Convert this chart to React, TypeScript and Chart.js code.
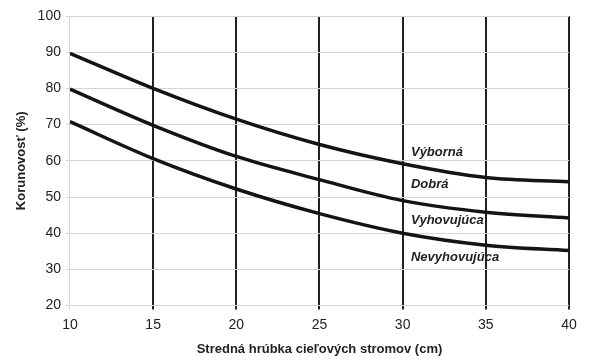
import React, { useEffect, useRef } from "react";
import { Chart, registerables } from "chart.js";
Chart.register(...registerables);

const diameters = [10, 15, 20, 25, 30, 35, 40];
const vybornaValues = [89.7, 80.0, 71.5, 64.5, 59.2, 55.4, 54.2];
const dobraValues = [79.8, 69.8, 61.2, 54.8, 49.0, 45.8, 44.2];
const vyhovujucaValues = [70.8, 60.6, 52.2, 45.4, 40.0, 36.7, 35.2];
const classLabels = ["Výborná", "Dobrá", "Vyhovujúca", "Nevyhovujúca"];
const classLabelY = [62.4, 53.4, 43.4, 33.2];
const classLabelX = 30.5;
const xTicks = [10, 15, 20, 25, 30, 35, 40];
const yTicks = [20, 30, 40, 50, 60, 70, 80, 90, 100];

const FONT = "'Liberation Sans', Arial, sans-serif";

const labelPlugin = {
  id: "classLabels",
  afterDatasetsDraw(chart: any) {
    const { ctx, scales } = chart;
    ctx.save();
    ctx.font = "italic bold 13px " + FONT;
    ctx.fillStyle = "#222";
    ctx.textAlign = "left";
    ctx.textBaseline = "middle";
    classLabels.forEach((t, i) => {
      ctx.fillText(t, scales.x.getPixelForValue(classLabelX), scales.y.getPixelForValue(classLabelY[i]));
    });
    ctx.restore();
  },
};

export default function App() {
  const ref = useRef<HTMLCanvasElement>(null);
  useEffect(() => {
    const mk = (vals: number[]) => diameters.map((x, i) => ({ x, y: vals[i] }));
    const ds = (vals: number[]) => ({
      data: mk(vals),
      borderColor: "#141414",
      borderWidth: 3.5,
      pointRadius: 0,
      cubicInterpolationMode: "monotone" as const,
      fill: false,
    });
    const chart = new Chart(ref.current!, {
      type: "line",
      data: { datasets: [ds(vybornaValues), ds(dobraValues), ds(vyhovujucaValues)] },
      options: {
        animation: false,
        responsive: false,
        layout: { padding: { top: 16, right: 31, left: 10, bottom: 2 } },
        plugins: { legend: { display: false }, tooltip: { enabled: false } },
        scales: {
          x: {
            type: "linear",
            min: 10,
            max: 40,
            afterBuildTicks: (s: any) => { s.ticks = xTicks.map((v) => ({ value: v })); },
            ticks: { color: "#222", font: { family: FONT, size: 14 }, padding: 7 },
            grid: {
              color: (c: any) => (c.tick && c.tick.value === 10 ? "#d4d4d4" : "#222"),
              lineWidth: (c: any) => (c.tick && c.tick.value === 10 ? 1 : 2),
              tickLength: 4,
              drawOnChartArea: true,
            },
            border: { display: false },
            title: {
              display: true,
              text: "Stredná hrúbka cieľových stromov (cm)",
              color: "#222",
              font: { family: FONT, size: 13, weight: "bold" },
              padding: { top: 1, bottom: 2 },
            },
          },
          y: {
            min: 20,
            max: 100,
            afterBuildTicks: (s: any) => { s.ticks = yTicks.map((v) => ({ value: v })); },
            ticks: { color: "#222", font: { family: FONT, size: 14 }, padding: 5 },
            grid: { color: "#d4d4d4", lineWidth: 1, tickLength: 4 },
            border: { display: true, color: "#d4d4d4" },
            title: {
              display: true,
              text: "Korunovosť (%)",
              color: "#222",
              font: { family: FONT, size: 13, weight: "bold" },
              padding: { bottom: 3 },
            },
          },
        },
      },
      plugins: [labelPlugin],
    });
    return () => chart.destroy();
  }, []);
  return (
    <div style={{ position: "absolute", left: 0, top: 0, width: 600, height: 361, background: "#fff" }}>
      <canvas ref={ref} width={600} height={361} />
    </div>
  );
}
